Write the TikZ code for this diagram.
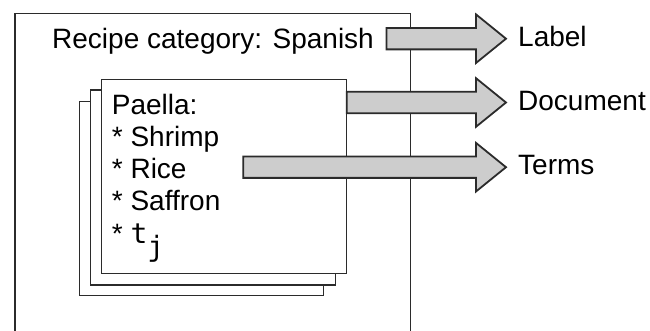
\documentclass[tikz,border=0pt]{standalone}
\usepackage{fontspec}
\setmainfont{Liberation Sans}
\newfontfamily\codefont{DejaVu Sans Mono}
\usetikzlibrary{calc}
\definecolor{inkline}{HTML}{2B2B2B}
\definecolor{arrowfill}{HTML}{CDCDCD}
\tikzset{
  frame/.style={draw=inkline, line width=1.5pt},
  page/.style={draw=inkline, line width=1.5pt, fill=white},
  txt/.style={inner sep=0pt, anchor=base west, font=\fontsize{28}{32}\selectfont, text=black},
  barrow/.style={draw=inkline, line width=1.8pt, fill=arrowfill, line join=miter},
}
% block arrow from a start point (#1) to a tip point (#2)
\newcommand\blockarrow[2]{%
  \draw[barrow] let \p1=(#1), \p2=(#2) in
    (\x1,\y1+10.7pt) -- (\x2-30pt,\y1+10.7pt) -- (\x2-30pt,\y1+24.3pt)
    -- (\x2,\y1) -- (\x2-30pt,\y1-24.3pt) -- (\x2-30pt,\y1-10.7pt)
    -- (\x1,\y1-10.7pt) -- cycle;}
\begin{document}
\begin{tikzpicture}[x=1pt,y=-1pt]
  \useasboundingbox (0,0) rectangle (650,331);
  % collection frame
  \draw[frame] (15,345) -- (15,13.5) -- (410.5,13.5) -- (410.5,345);
  \node[txt] (cat) at (52,48.5) {Recipe category: Spanish};
  % stacked documents
  \draw[page] (79.3,101.7) rectangle (323.3,295.7);
  \draw[page] (90.7,90) rectangle (335.7,285);
  \draw[page] (101.7,79.3) rectangle (346.7,273.3);
  \node[txt] (p1) at (111.7,115) {Paella:};
  \node[txt] (p2) at (111.7,147) {* Shrimp};
  \node[txt] (p3) at (111.7,178.5) {* Rice};
  \node[txt] (p4) at (111.7,210.5) {* Saffron};
  \node[txt] (p5) at (111.7,243.5) {* {\codefont t\raisebox{-13pt}{j}}};
  % outputs
  \node[txt] (lab) at (518,47) {Label};
  \node[txt] (doc) at (518,110.5) {Document};
  \node[txt] (ter) at (518,175) {Terms};
  \coordinate (sL) at (386.5,38.7);
  \coordinate (tL) at (506,38.7);
  \coordinate (sD) at (346.7,102.5);
  \coordinate (tD) at (506,102.5);
  \coordinate (sT) at (243.3,167.2);
  \coordinate (tT) at (506,167.2);
  \blockarrow{sL}{tL}
  \blockarrow{sD}{tD}
  \blockarrow{sT}{tT}
\end{tikzpicture}
\end{document}
